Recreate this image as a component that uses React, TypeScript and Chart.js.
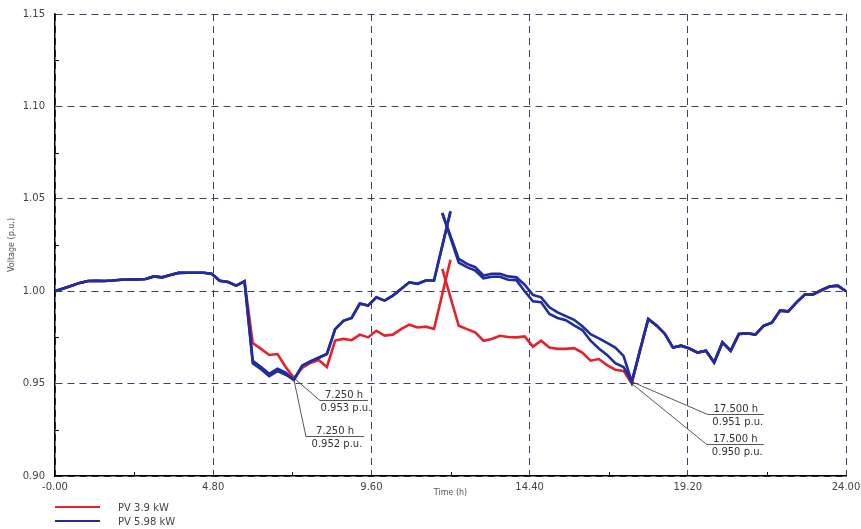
import React, { useEffect, useRef } from "react";
import { Chart, registerables } from "chart.js";

Chart.register(...registerables);

// Sample grid: every 15 minutes from 0 h to 24 h
const times: number[] = Array.from({ length: 97 }, (_, i) => i * 0.25);

// PV 5.98 kW (upper blue trace)
const pv598Upper: number[] = [
  1.0, 1.0015, 1.003, 1.0045, 1.0055, 1.0056, 1.0055, 1.0058, 1.0062, 1.0063,
  1.0063, 1.0066, 1.008, 1.0075, 1.0088, 1.0099, 1.01, 1.01, 1.01, 1.0094,
  1.0057, 1.005, 1.003, 1.0054, 0.9624, 0.959, 0.9553, 0.958, 0.956, 0.952,
  0.9597, 0.962, 0.964, 0.966, 0.9795, 0.984, 0.9855, 0.9933, 0.9922, 0.9967,
  0.9949, 0.9976, 1.0012, 1.0048, 1.004, 1.0058, 1.0058, 1.0423, 1.0432, 1.0175,
  1.0148, 1.013, 1.0085, 1.0094, 1.0094, 1.008, 1.0075, 1.0035, 0.998, 0.9967,
  0.9913, 0.9885, 0.9865, 0.9845, 0.981, 0.9768, 0.9745, 0.972, 0.9695, 0.965,
  0.951, 0.968, 0.985, 0.9815, 0.977, 0.9695, 0.9705, 0.969, 0.9668, 0.9678,
  0.9614, 0.9723, 0.9678, 0.9768, 0.9772, 0.9765, 0.9813, 0.983, 0.9895, 0.9891,
  0.994, 0.9982, 0.9982, 1.0005, 1.0025, 1.003, 1.0,
];

// PV 5.98 kW (lower blue trace)
const pv598Lower: number[] = [
  1.0, 1.0015, 1.003, 1.0045, 1.0055, 1.0056, 1.0055, 1.0058, 1.0062, 1.0063,
  1.0063, 1.0066, 1.008, 1.0075, 1.0088, 1.0099, 1.01, 1.01, 1.01, 1.0094,
  1.0057, 1.005, 1.003, 1.0054, 0.961, 0.9578, 0.954, 0.9568, 0.9548, 0.952,
  0.9597, 0.962, 0.964, 0.966, 0.9795, 0.984, 0.9855, 0.9933, 0.9922, 0.9967,
  0.9949, 0.9976, 1.0012, 1.0048, 1.004, 1.0058, 1.0058, 1.0423, 1.0432, 1.0155,
  1.013, 1.0112, 1.007, 1.0078, 1.0078, 1.0062, 1.006, 1.0, 0.9945, 0.994,
  0.9877, 0.9855, 0.9843, 0.9815, 0.979, 0.9732, 0.969, 0.9655, 0.961, 0.959,
  0.951, 0.968, 0.985, 0.9815, 0.977, 0.9695, 0.9705, 0.969, 0.9668, 0.9678,
  0.9614, 0.9723, 0.9678, 0.9768, 0.9772, 0.9765, 0.9813, 0.983, 0.9895, 0.9891,
  0.994, 0.9982, 0.9982, 1.0005, 1.0025, 1.003, 1.0,
];

// PV 3.9 kW (red trace)
const pv39: number[] = [
  1.0, 1.0015, 1.003, 1.0045, 1.0055, 1.0056, 1.0055, 1.0058, 1.0062, 1.0063,
  1.0063, 1.0066, 1.008, 1.0075, 1.0088, 1.0099, 1.01, 1.01, 1.01, 1.0094,
  1.0057, 1.005, 1.003, 1.0054, 0.972, 0.9688, 0.9655, 0.966, 0.959, 0.953,
  0.9585, 0.9612, 0.9628, 0.959, 0.9733, 0.9742, 0.9735, 0.9765, 0.975, 0.9786,
  0.976, 0.9765, 0.9795, 0.9819, 0.9804, 0.9808, 0.9796, 1.0121, 1.017, 0.9813,
  0.9795, 0.9777, 0.9732, 0.9741, 0.9759, 0.9752, 0.975, 0.9755, 0.97, 0.9732,
  0.9695, 0.9688, 0.9688, 0.9692, 0.9668, 0.9624, 0.9633, 0.96, 0.9575, 0.9569,
  0.95, 0.968, 0.985, 0.9815, 0.977, 0.9695, 0.9705, 0.969, 0.9668, 0.9678,
  0.9614, 0.9723, 0.9678, 0.9768, 0.9772, 0.9765, 0.9813, 0.983, 0.9895, 0.9891,
  0.994, 0.9982, 0.9982, 1.0005, 1.0025, 1.003, 1.0,
];

// Spike samples: the rising stroke ends at SPIKE_RISE_END, the falling stroke starts at SPIKE_FALL_START
const SPIKE_FALL_START = 11.75;
const SPIKE_RISE_END = 12.0;

const xTickValues = [0, 4.8, 9.6, 14.4, 19.2, 24];
const xTickLabels = ["-0.00", "4.80", "9.60", "14.40", "19.20", "24.00"];
const yTickValues = [0.9, 0.95, 1.0, 1.05, 1.1, 1.15];
const yTickLabels = ["0.90", "0.95", "1.00", "1.05", "1.10", "1.15"];
const xMinorTicks = [2.4, 7.2, 12.0, 16.8, 21.6];
const yMinorTicks = [0.925, 0.975, 1.025, 1.075, 1.125];

const annotationTimes = [7.25, 7.25, 17.5, 17.5];
const annotationValues = [0.953, 0.952, 0.951, 0.95];

const legendLabels = ["PV 3.9 kW", "PV 5.98 kW"];

const RED = "#e3222b";
const BLUE = "#1f2d9e";
const FONT = "'DejaVu Sans', sans-serif";

function splitSpike(values: number[]) {
  const pts = times.map((t, i) => ({ x: t, y: values[i] }));
  const rising = pts.filter((p) => p.x < SPIKE_FALL_START || p.x === SPIKE_RISE_END);
  const falling = pts.filter((p) => p.x === SPIKE_FALL_START || p.x > SPIKE_RISE_END);
  return [rising, falling];
}

// pixel layout of the annotation leader lines (offset of elbow from the point, underline length)
const annotationLayout = [
  { dx: 26, dy: 22, len: 48 },
  { dx: 12, dy: 56, len: 58 },
  { dx: 76, dy: 32, len: 56 },
  { dx: 75, dy: 60, len: 57 },
];

const overlayPlugin = {
  id: "overlay",
  afterDraw(chart: any) {
    const { ctx, chartArea } = chart;
    const xs = chart.scales.x;
    const ys = chart.scales.y;
    ctx.save();
    // minor ticks
    ctx.strokeStyle = "#111";
    ctx.lineWidth = 1;
    yMinorTicks.forEach((v) => {
      const py = Math.round(ys.getPixelForValue(v)) + 0.5;
      ctx.beginPath();
      ctx.moveTo(chartArea.left, py);
      ctx.lineTo(chartArea.left + 4, py);
      ctx.stroke();
    });
    xMinorTicks.forEach((v) => {
      const px = Math.round(xs.getPixelForValue(v)) + 0.5;
      ctx.beginPath();
      ctx.moveTo(px, chartArea.bottom);
      ctx.lineTo(px, chartArea.bottom - 4);
      ctx.stroke();
    });
    // annotations
    ctx.font = `10px ${FONT}`;
    ctx.fillStyle = "#333";
    annotationTimes.forEach((t, i) => {
      const v = annotationValues[i];
      const L = annotationLayout[i];
      const px = xs.getPixelForValue(t);
      const py = ys.getPixelForValue(v);
      const ex = px + L.dx;
      const ey = Math.round(py + L.dy) + 0.5;
      ctx.strokeStyle = "#444";
      ctx.lineWidth = 0.9;
      ctx.beginPath();
      ctx.moveTo(px, py);
      ctx.lineTo(ex, ey);
      ctx.lineTo(ex + L.len, ey);
      ctx.stroke();
      const cx = ex + L.len / 2;
      ctx.textAlign = "center";
      ctx.textBaseline = "alphabetic";
      ctx.fillText(`${t.toFixed(3)} h`, cx, ey - 2.5);
      ctx.textBaseline = "top";
      ctx.fillText(`${v.toFixed(3)} p.u.`, cx + 2, ey + 2.5);
    });
    ctx.restore();
  },
};

export default function App() {
  const canvasRef = useRef<HTMLCanvasElement | null>(null);

  useEffect(() => {
    const canvas = canvasRef.current;
    if (!canvas) return;
    const [bU1, bU2] = splitSpike(pv598Upper);
    const [bL1, bL2] = splitSpike(pv598Lower);
    const [r1, r2] = splitSpike(pv39);
    const lineStyle = { pointRadius: 0, borderWidth: 2.6, tension: 0, fill: false };
    const chart = new Chart(canvas, {
      type: "line",
      data: {
        datasets: [
          { label: legendLabels[1], data: bU1, borderColor: BLUE, ...lineStyle },
          { label: legendLabels[1] + " b", data: bU2, borderColor: BLUE, ...lineStyle },
          { label: legendLabels[1] + " c", data: bL1, borderColor: BLUE, ...lineStyle },
          { label: legendLabels[1] + " d", data: bL2, borderColor: BLUE, ...lineStyle },
          { label: legendLabels[0], data: r1, borderColor: RED, ...lineStyle },
          { label: legendLabels[0] + " b", data: r2, borderColor: RED, ...lineStyle },
        ],
      },
      options: {
        animation: false,
        responsive: false,
        parsing: true,
        layout: { padding: { top: 14, right: 15, bottom: 29, left: 0 } },
        plugins: { legend: { display: false }, tooltip: { enabled: false } },
        scales: {
          x: {
            type: "linear",
            min: 0,
            max: 24,
            afterBuildTicks: (scale: any) => {
              scale.ticks = xTickValues.map((v) => ({ value: v }));
            },
            afterFit: (scale: any) => {
              scale.height = 24;
              scale.paddingLeft = 0;
              scale.paddingRight = 0;
            },
            ticks: {
              autoSkip: false,
              maxRotation: 0,
              padding: 5,
              color: "#444",
              font: { family: FONT, size: 10 },
              callback: (value: any) => xTickLabels[xTickValues.indexOf(Number(value))] ?? "",
            },
            grid: { color: "#3c4160", lineWidth: 1, drawTicks: false },
            border: { display: true, color: "#000", width: 1.5, dash: [7, 5] },
            title: {
              display: true,
              text: "Time (h)",
              color: "#555",
              font: { family: FONT, size: 8 },
              padding: { top: 0, bottom: 2 },
            },
          },
          y: {
            type: "linear",
            min: 0.9,
            max: 1.15,
            afterBuildTicks: (scale: any) => {
              scale.ticks = yTickValues.map((v) => ({ value: v }));
            },
            afterFit: (scale: any) => {
              scale.width = 55;
              scale.paddingTop = 0;
              scale.paddingBottom = 0;
            },
            ticks: {
              autoSkip: false,
              padding: 10,
              color: "#444",
              font: { family: FONT, size: 10 },
              callback: (value: any) => {
                const idx = yTickValues.findIndex((v) => Math.abs(v - Number(value)) < 1e-6);
                return idx >= 0 ? yTickLabels[idx] : "";
              },
            },
            grid: { color: "#3c4160", lineWidth: 1, drawTicks: false },
            border: { display: true, color: "#000", width: 1.5, dash: [7, 5] },
            title: {
              display: true,
              text: "Voltage (p.u.)",
              color: "#555",
              font: { family: FONT, size: 8 },
              padding: { top: 7, bottom: 0 },
            },
          },
        },
      },
      plugins: [overlayPlugin],
    });
    return () => chart.destroy();
  }, []);

  const legendRow = (color: string, label: string, y: number) => (
    <div
      key={label}
      style={{ position: "absolute", left: 55, top: y - 7, height: 14, display: "flex", alignItems: "center" }}
    >
      <div style={{ width: 45, height: 2, background: color }} />
      <span style={{ marginLeft: 18, font: `10px ${FONT}`, color: "#444", whiteSpace: "nowrap" }}>{label}</span>
    </div>
  );

  return (
    <div style={{ position: "fixed", left: 0, top: 0, width: 861, height: 529, background: "#fff" }}>
      <canvas ref={canvasRef} width={861} height={529} style={{ display: "block", width: 861, height: 529 }} />
      {legendRow(RED, legendLabels[0], 507)}
      {legendRow(BLUE, legendLabels[1], 521)}
    </div>
  );
}
